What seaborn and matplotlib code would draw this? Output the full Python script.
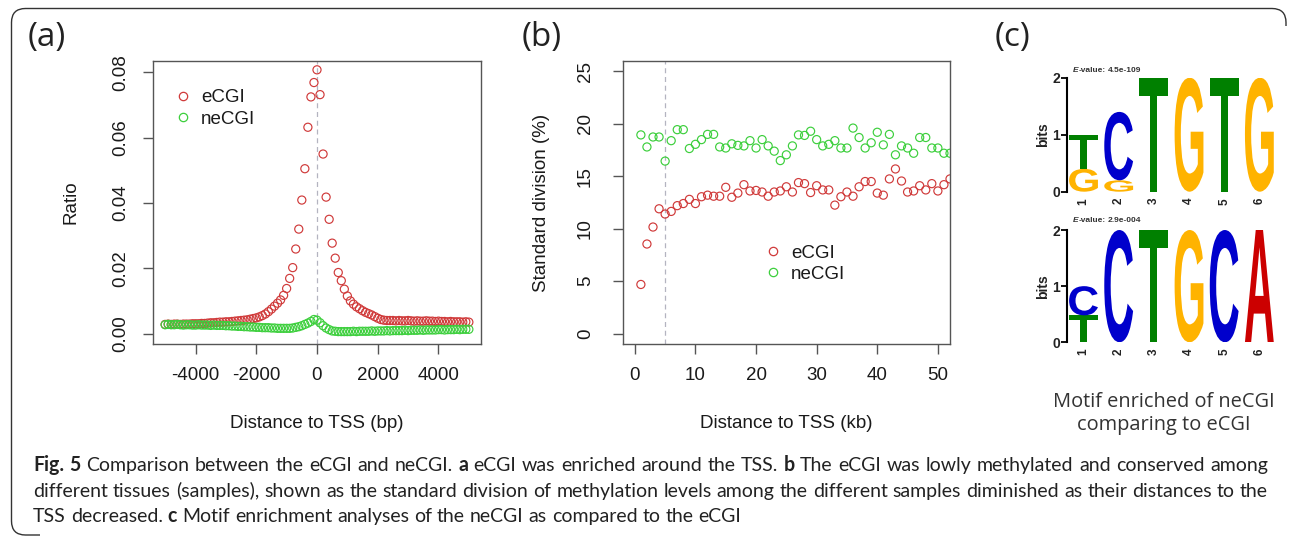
import numpy as np
import pandas as pd
import matplotlib
matplotlib.use("Agg")
import matplotlib.pyplot as plt
import seaborn as sns
from matplotlib.textpath import TextPath
from matplotlib.patches import PathPatch
from matplotlib.path import Path
from matplotlib.font_manager import FontProperties, fontManager
from matplotlib.transforms import Affine2D, IdentityTransform
from matplotlib.lines import Line2D

# ------------------------------------------------------------------ data
tss_bp = list(range(-5000, 5001, 100))
ecgi_ratio = [
    0.0028, 0.0029, 0.0028, 0.0029, 0.0029, 0.0028, 0.0029, 0.0029, 0.0029, 0.0030,
    0.0030, 0.0030, 0.0031, 0.0031, 0.0032, 0.0033, 0.0033, 0.0034, 0.0035, 0.0035,
    0.0036, 0.0036, 0.0037, 0.0038, 0.0039, 0.0040, 0.0041, 0.0042, 0.0044, 0.0046,
    0.0048, 0.0051, 0.0055, 0.0060, 0.0067, 0.0075, 0.0084, 0.0093, 0.0103, 0.0117,
    0.0138, 0.0169, 0.0202, 0.0259, 0.0320, 0.0409, 0.0505, 0.0632, 0.0725, 0.0769,
    0.0808,
    0.0732, 0.0550, 0.0418, 0.0350, 0.0277, 0.0231, 0.0187, 0.0162, 0.0136, 0.0115,
    0.0100, 0.0090, 0.0082, 0.0076, 0.0070, 0.0065, 0.0061, 0.0057, 0.0052, 0.0047,
    0.0043, 0.0041, 0.0040, 0.0040, 0.0040, 0.0039, 0.0040, 0.0039, 0.0039, 0.0040,
    0.0039, 0.0038, 0.0039, 0.0038, 0.0038, 0.0039, 0.0038, 0.0038, 0.0037, 0.0038,
    0.0037, 0.0037, 0.0036, 0.0037, 0.0036, 0.0036, 0.0036, 0.0035, 0.0036, 0.0035,
]
necgi_ratio = [
    0.0027, 0.0028, 0.0027, 0.0027, 0.0028, 0.0027, 0.0026, 0.0027, 0.0027, 0.0026,
    0.0026, 0.0027, 0.0026, 0.0026, 0.0026, 0.0025, 0.0026, 0.0025, 0.0025, 0.0025,
    0.0024, 0.0024, 0.0023, 0.0023, 0.0022, 0.0022, 0.0021, 0.0021, 0.0020, 0.0020,
    0.0019, 0.0019, 0.0018, 0.0018, 0.0018, 0.0017, 0.0017, 0.0016, 0.0016, 0.0016,
    0.0016, 0.0016, 0.0017, 0.0019, 0.0021, 0.0024, 0.0028, 0.0032, 0.0037, 0.0043,
    0.0041,
    0.0033, 0.0024, 0.0017, 0.0012, 0.0008, 0.0007, 0.0006, 0.0006, 0.0006, 0.0006,
    0.0006, 0.0007, 0.0006, 0.0007, 0.0007, 0.0007, 0.0007, 0.0008, 0.0007, 0.0008,
    0.0008, 0.0008, 0.0009, 0.0008, 0.0009, 0.0009, 0.0009, 0.0009, 0.0010, 0.0009,
    0.0010, 0.0010, 0.0010, 0.0011, 0.0010, 0.0011, 0.0011, 0.0011, 0.0011, 0.0012,
    0.0012, 0.0011, 0.0012, 0.0012, 0.0012, 0.0013, 0.0012, 0.0013, 0.0013, 0.0013,
]

dist_kb = list(range(1, 53))
ecgi_sd = [
    4.68, 8.54, 10.16, 11.90, 11.40, 11.65, 12.20, 12.40, 12.80, 12.40,
    13.05, 13.20, 13.10, 13.10, 13.95, 13.00, 13.40, 14.20, 13.60, 13.65,
    13.50, 13.10, 13.50, 13.60, 14.00, 13.50, 14.40, 14.30, 13.45, 14.10,
    13.70, 13.70, 12.25, 13.05, 13.50, 13.10, 14.00, 14.50, 14.50, 13.40,
    13.20, 14.75, 15.70, 14.55, 13.50, 13.60, 14.10, 13.70, 14.30, 13.60,
    14.20, 14.75,
]
necgi_sd = [
    18.95, 17.80, 18.75, 18.75, 16.45, 18.40, 19.45, 19.45, 17.65, 18.05,
    18.50, 19.00, 19.00, 17.80, 17.70, 18.10, 17.95, 17.90, 18.40, 17.70,
    18.50, 17.90, 17.40, 16.50, 17.05, 17.90, 18.95, 18.90, 19.30, 18.50,
    17.90, 18.05, 18.40, 17.70, 17.70, 19.60, 18.70, 17.70, 18.20, 19.20,
    18.00, 19.00, 17.05, 17.90, 17.70, 17.20, 18.70, 18.70, 17.70, 17.70,
    17.20, 17.20,
]

motif_positions = [1, 2, 3, 4, 5, 6]
motif1_letters = [["G", "T"], ["G", "C"], ["T"], ["G"], ["T"], ["G"]]
motif1_bits = [[0.40, 0.60], [0.20, 1.20], [2.0], [2.0], [2.0], [2.0]]
motif2_letters = [["T", "C"], ["C"], ["T"], ["G"], ["C"], ["A"]]
motif2_bits = [[0.48, 0.52], [2.0], [2.0], [2.0], [2.0], [2.0]]
motif1_evalue = "4.5e-109"
motif2_evalue = "2.9e-004"

caption_lines = [
    [("Fig. 5", "b"), (" Comparison between the eCGI and neCGI. ", ""), ("a", "b"),
     (" eCGI was enriched around the TSS. ", ""), ("b", "b"),
     (" The eCGI was lowly methylated and conserved among", "")],
    [("different tissues (samples), shown as the standard division of methylation "
      "levels among the different samples diminished as their distances to the", "")],
    [("TSS decreased. ", ""), ("c", "b"),
     (" Motif enrichment analyses of the neCGI as compared to the eCGI", "")],
]

# ------------------------------------------------------------------ style
sns.set_style("ticks")
plt.rcParams["font.family"] = ["Liberation Sans", "DejaVu Sans"]
plt.rcParams["axes.edgecolor"] = "#555555"
plt.rcParams["axes.unicode_minus"] = False

RED = "#d03a3a"
GREEN = "#3ccf3c"
TXT = "#1a1a1a"
LOGO_COLORS = {"A": "#CC0000", "C": "#0000CC", "G": "#FFB300", "T": "#008000"}

avail = {f.name for f in fontManager.ttflist}
HEAD_FAMILY = "Open Sans" if "Open Sans" in avail else "DejaVu Sans"
CAP_FAMILY = "Lato" if "Lato" in avail else HEAD_FAMILY

W, H = 1290, 536
fig = plt.figure(figsize=(W / 100, H / 100), dpi=100)
fig.patch.set_facecolor("white")
renderer = fig.canvas.get_renderer()


def add_axes_px(left, top, right, bottom):
    return fig.add_axes([left / W, 1 - bottom / H, (right - left) / W, (bottom - top) / H])


def measure(s, fp):
    t = fig.text(0, 0, s, fontproperties=fp)
    w = t.get_window_extent(renderer).width
    t.remove()
    return w


def make_fp(family, size, st):
    return FontProperties(family=family, size=size,
                          weight="bold" if "b" in st else "normal",
                          style="italic" if "i" in st else "normal")


def rich_line(x_px, y_px, parts, size, family, color, target=None, draw=True):
    """Place a line of mixed-weight words; optionally justify to target width."""
    items = []
    pending = 0
    for s, st in parts:
        words = s.split(" ")
        for i, wd in enumerate(words):
            if i > 0:
                pending += 1
            if wd:
                items.append((wd, st, pending if items else 0))
                pending = 0
    fpn = make_fp(family, size, "")
    sp = measure("a a", fpn) - measure("aa", fpn)
    widths = [measure(wd, make_fp(family, size, st)) for wd, st, _ in items]
    nsp = sum(n for _, _, n in items)
    natural = sum(widths) + sp * nsp
    if not draw:
        return natural
    extra = (target - natural) / nsp if (target and nsp) else 0.0
    cur = x_px
    for (wd, st, n), w in zip(items, widths):
        cur += n * (sp + extra)
        fig.text(cur / W, 1 - y_px / H, wd, fontproperties=make_fp(family, size, st),
                 color=color, ha="left", va="baseline")
        cur += w
    return natural


def style_r_axes(ax, ylab_x, ylab, xlab, ypad, xpad=9.5):
    for sp in ax.spines.values():
        sp.set_visible(True)
        sp.set_color("#555555")
        sp.set_linewidth(1.0)
    ax.tick_params(direction="out", length=7.2, width=1.0, color="#555555",
                   labelsize=13.5, labelcolor=TXT)
    ax.tick_params(axis="x", pad=xpad)
    ax.tick_params(axis="y", pad=ypad, labelrotation=90)
    for t in ax.get_yticklabels():
        t.set_va("center")
    ax.set_ylabel(ylab, fontsize=13.5, color=TXT)
    ax.set_xlabel(xlab, fontsize=13.5, color=TXT)
    ax.yaxis.set_label_coords(ylab_x, 0.5)
    ax.yaxis.label.set_va("center")
    ax.xaxis.set_label_coords(0.5, (344 - 423) / 283)
    ax.xaxis.label.set_va("center")


def hollow(ax):
    coll = ax.collections[-1]
    fc = coll.get_facecolors()
    coll.set_edgecolors(fc)
    coll.set_facecolors("none")


def legend_r(ax, x, y):
    handles = [Line2D([], [], ls="", marker="o", ms=6.0, mfc="none", mec=RED, mew=0.9),
               Line2D([], [], ls="", marker="o", ms=6.0, mfc="none", mec=GREEN, mew=0.9)]
    ax.legend(handles, ["eCGI", "neCGI"], loc="upper left", bbox_to_anchor=(x, y),
              frameon=False, fontsize=13.5, handlelength=1.2, handletextpad=0.36,
              labelspacing=0.23, borderpad=0, borderaxespad=0, labelcolor=TXT)


# ------------------------------------------------------------------ panel (a)
ax_a = add_axes_px(153, 61, 481, 344)
df_a = pd.DataFrame({
    "dist": tss_bp + tss_bp,
    "ratio": ecgi_ratio + necgi_ratio,
    "group": ["eCGI"] * len(tss_bp) + ["neCGI"] * len(tss_bp),
})
ax_a.axvline(0, color="#b4b4c0", ls=(0, (4, 3)), lw=0.9, zorder=0)
sns.scatterplot(data=df_a, x="dist", y="ratio", hue="group",
                palette={"eCGI": RED, "neCGI": GREEN}, marker="o", s=34,
                linewidth=0.85, legend=False, ax=ax_a)
hollow(ax_a)
ax_a.set_xlim(-5400, 5400)
ax_a.set_ylim(-0.0032, 0.0835)
ax_a.set_xticks([-4000, -2000, 0, 2000, 4000])
ax_a.set_yticks([0.0, 0.02, 0.04, 0.06, 0.08])
ax_a.set_yticklabels(["0.00", "0.02", "0.04", "0.06", "0.08"])
style_r_axes(ax_a, (71 - 153) / 328, "Ratio", "Distance to TSS (bp)", ypad=10)
legend_r(ax_a, 0.057, 0.90)

# ------------------------------------------------------------------ panel (b)
ax_b = add_axes_px(622.7, 61, 950, 344)
df_b = pd.DataFrame({
    "dist": dist_kb + dist_kb,
    "sd": ecgi_sd + necgi_sd,
    "group": ["eCGI"] * len(dist_kb) + ["neCGI"] * len(dist_kb),
})
ax_b.axvline(5, color="#b4b4c0", ls=(0, (4, 3)), lw=0.9, zorder=0)
sns.scatterplot(data=df_b, x="dist", y="sd", hue="group",
                palette={"eCGI": RED, "neCGI": GREEN}, marker="o", s=34,
                linewidth=0.85, legend=False, ax=ax_b)
hollow(ax_b)
ax_b.set_xlim(-2, 52)
ax_b.set_ylim(-1, 26)
ax_b.set_xticks([0, 10, 20, 30, 40, 50])
ax_b.set_yticks([0, 5, 10, 15, 20, 25])
style_r_axes(ax_b, (541.7 - 622.7) / 327.3, "Standard division (%)",
             "Distance to TSS (kb)", ypad=13.5)
legend_r(ax_b, 0.4256, 0.352)

# ------------------------------------------------------------------ panel (c) logos
logo_fp = FontProperties(family="Liberation Sans", weight="bold")
LETTER_W = 0.82


def draw_logo(ax, letters, bits):
    for pos, lets, hs in zip(motif_positions, letters, bits):
        base = 0.0
        for L, h in zip(lets, hs):
            tp = TextPath((0, 0), L, size=1, prop=logo_fp)
            bb = tp.get_extents()
            tr = (Affine2D().translate(-bb.x0, -bb.y0)
                  .scale(LETTER_W / bb.width, h / bb.height)
                  .translate(pos - LETTER_W / 2, base))
            ax.add_patch(PathPatch(tr.transform_path(tp), fc=LOGO_COLORS[L],
                                   ec="none", lw=0))
            base += h
    ax.set_xlim(0.53, 6.53)
    ax.set_ylim(0, 2)
    for k in ("top", "right", "bottom"):
        ax.spines[k].set_visible(False)
    ax.spines["left"].set_color("black")
    ax.spines["left"].set_linewidth(1.5)
    ax.set_yticks([0, 1, 2])
    ax.set_xticks(motif_positions)
    ax.set_xticklabels([str(p) for p in motif_positions], rotation=90,
                       fontweight="bold", fontsize=8.5, color="#222222")
    ax.set_yticklabels(["0", "1", "2"], fontweight="bold", fontsize=10, color="#222222")
    ax.tick_params(axis="y", direction="out", length=4, width=1.3, color="black", pad=1)
    ax.tick_params(axis="x", length=0, pad=4.5)
    ax.set_ylabel("bits", fontweight="bold", fontsize=10, color="#222222")
    ax.yaxis.set_label_coords((1043 - 1067) / 211, 0.5)
    ax.yaxis.label.set_va("center")
    ax.set_facecolor("none")


ax_l1 = add_axes_px(1067, 77.7, 1278, 191.7)
draw_logo(ax_l1, motif1_letters, motif1_bits)
ax_l2 = add_axes_px(1067, 230, 1278, 342.3)
draw_logo(ax_l2, motif2_letters, motif2_bits)

rich_line(1073, 72.5, [("E", "bi"), ("-value: " + motif1_evalue, "b")], 6, "Liberation Sans", "#333333")
rich_line(1073, 222.5, [("E", "bi"), ("-value: " + motif2_evalue, "b")], 6, "Liberation Sans", "#333333")

fig.text(1164 / W, 1 - 401.7 / H, "Motif enriched of neCGI", family=HEAD_FAMILY,
         fontsize=14.4, color="#333333", ha="center", va="center")
fig.text(1164 / W, 1 - 425 / H, "comparing to eCGI", family=HEAD_FAMILY,
         fontsize=14.4, color="#333333", ha="center", va="center")

# ------------------------------------------------------------------ panel letters
for lab, x in (("(a)", 28), ("(b)", 521.7), ("(c)", 995)):
    fig.text(x / W, 1 - 37.5 / H, lab, family=HEAD_FAMILY, fontsize=24,
             color="#222222", ha="left", va="center")

# ------------------------------------------------------------------ caption
CAP_X, CAP_R = 33, 1268
w_probe = rich_line(CAP_X, 0, caption_lines[1], 10, CAP_FAMILY, "#222222", draw=False)
cap_size = 10 * (CAP_R - CAP_X) / w_probe
w_probe2 = rich_line(CAP_X, 0, caption_lines[1], cap_size, CAP_FAMILY, "#222222", draw=False)
cap_size = cap_size * (CAP_R - CAP_X) / w_probe2
for i, (line, base) in enumerate(zip(caption_lines, (471, 497, 522))):
    rich_line(CAP_X, base, line, cap_size, CAP_FAMILY, "#222222",
              target=(CAP_R - CAP_X) if i < 2 else None)

# ------------------------------------------------------------------ border
def d(x, y):
    return (x, H - y)


verts = [d(1286, 26), d(1286, 22.5), d(1286, 8.5), d(1272, 8.5),
         d(25.5, 8.5), d(11.5, 8.5), d(11.5, 22.5),
         d(11.5, 521), d(11.5, 535), d(25.5, 535), d(40, 535)]
codes = [Path.MOVETO, Path.LINETO, Path.CURVE3, Path.CURVE3,
         Path.LINETO, Path.CURVE3, Path.CURVE3,
         Path.LINETO, Path.CURVE3, Path.CURVE3, Path.LINETO]
fig.add_artist(PathPatch(Path(verts, codes), transform=IdentityTransform(),
                         fc="none", ec="#333333", lw=1.0))

fig.savefig("out.png", dpi=100)
